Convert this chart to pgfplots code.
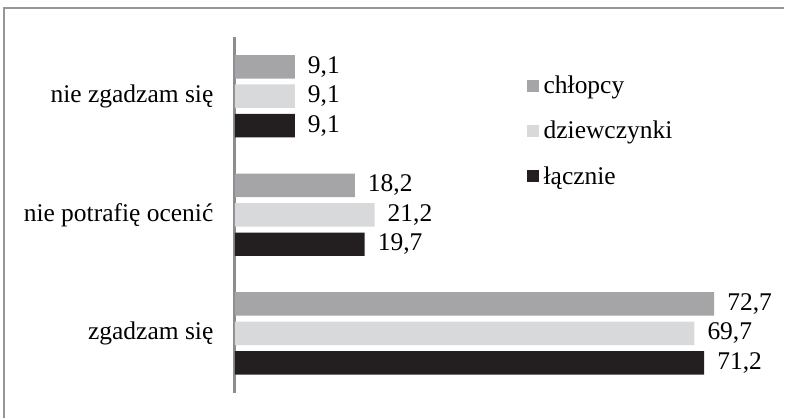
\documentclass[border=0pt]{standalone}
\usepackage{pgfplots}
\pgfplotsset{compat=1.18}
\usepackage{fontspec}
\setmainfont{Liberation Serif}

\definecolor{boys}{RGB}{165,165,168}
\definecolor{girls}{RGB}{216,217,219}
\definecolor{total}{RGB}{35,31,32}
\definecolor{axisgray}{RGB}{140,140,145}
\definecolor{framegray}{RGB}{150,150,150}

\begin{document}
\begin{tikzpicture}[font=\fontsize{25.5}{29}\selectfont]
  % page size and outer frame
  \path (0,0) rectangle (785pt,418pt);
  \draw[framegray, line width=1.6pt] (4pt,0pt) -- (4pt,410pt) -- (785pt,410pt);

  \begin{axis}[
    at={(235pt,25pt)}, anchor=south west,
    scale only axis,
    width=528pt, height=356pt,
    xmin=0, xmax=80,
    ymin=-0.5, ymax=2.5,
    xbar, bar width=23.5pt,
    axis x line=none,
    axis y line*=left,
    axis line style={axisgray, line width=2.6pt},
    ytick={0,1,2},
    yticklabels={zgadzam się, nie potrafię ocenić, nie zgadzam się},
    ytick style={draw=none},
    yticklabel style={anchor=east, inner sep=0pt, xshift=-17pt},
    clip=false,
    nodes near coords,
    nodes near coords style={anchor=west, inner sep=0pt, xshift=13pt, text=black},
    /pgf/number format/.cd, fixed, precision=1, fixed zerofill, use comma, assume math mode=true,
    /pgfplots/.cd,
    legend image code/.code={\fill[#1] (0pt,-6pt) rectangle (12pt,6pt);},
    legend cell align=left,
    legend style={at={(0.553,0.736)}, anchor=west, draw=none, fill=none,
      inner sep=0pt, row sep=22pt, column sep=3pt,
      nodes={inner sep=2pt}},
  ]
    \addplot[fill=boys, draw=none, bar shift=29.5pt] coordinates {(72.7,0) (18.2,1) (9.1,2)};
    \addlegendentry{chłopcy}
    \addplot[fill=girls, draw=none, bar shift=0pt] coordinates {(69.7,0) (21.2,1) (9.1,2)};
    \addlegendentry{dziewczynki}
    \addplot[fill=total, draw=none, bar shift=-29.5pt] coordinates {(71.2,0) (19.7,1) (9.1,2)};
    \addlegendentry{łącznie}
  \end{axis}
\end{tikzpicture}
\end{document}
